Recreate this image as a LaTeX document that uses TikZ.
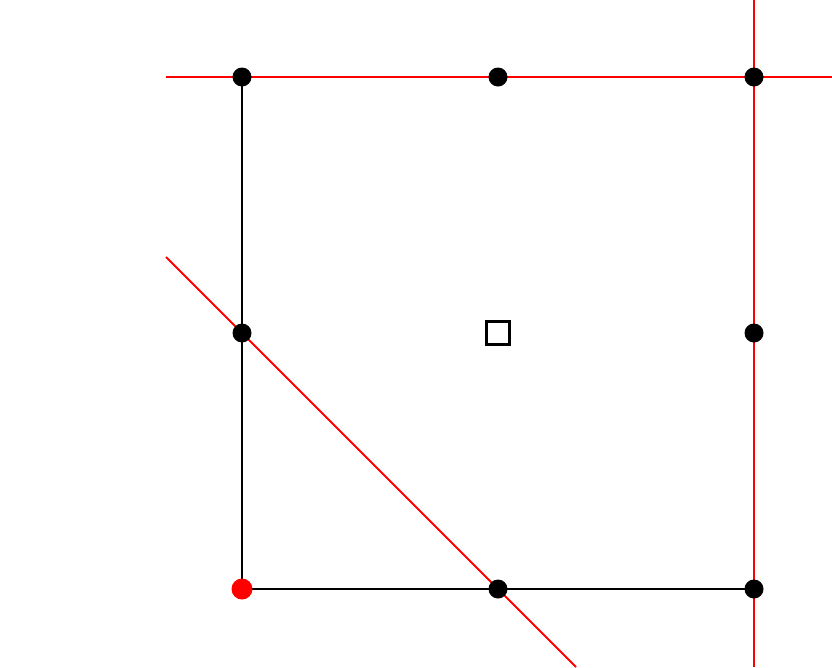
\documentclass[tikz,border=0pt]{standalone}
\begin{document}
\begin{tikzpicture}[x=0.02cm,y=-0.02cm,
  blk/.style={black,line width=1.1pt},
  rdl/.style={red,line width=1.1pt},
  dot/.style={circle,fill=black,inner sep=0pt,minimum size=0.38cm},
  rdot/.style={circle,fill=red,inner sep=0pt,minimum size=0.42cm},
  ctr/.style={draw=black,line width=1.3pt,inner sep=0pt,minimum size=0.46cm}]
\useasboundingbox (0,0) rectangle (832,667);
% coordinates
\coordinate (tl) at (242,77);
\coordinate (tm) at (498,77);
\coordinate (tr) at (754,77);
\coordinate (ml) at (242,333);
\coordinate (mr) at (754,333);
\coordinate (bl) at (242,589);
\coordinate (bm) at (498,589);
\coordinate (br) at (754,589);
\coordinate (hA) at (166,77);
\coordinate (hB) at (832,77);
\coordinate (vA) at (754,0);
\coordinate (vB) at (754,667);
\coordinate (dA) at (166,257);
\coordinate (dB) at (576,667);
% black edges
\draw[blk] (tl) -- (bl) -- (br);
% red lines
\draw[rdl] (hA) -- (hB);
\draw[rdl] (vA) -- (vB);
\draw[rdl] (dA) -- (dB);
% center square
\node[ctr] (c) at (498,333) {};
% dots
\node[dot] (ntl) at (tl) {};
\node[dot] (ntm) at (tm) {};
\node[dot] (ntr) at (tr) {};
\node[dot] (nml) at (ml) {};
\node[dot] (nmr) at (mr) {};
\node[dot] (nbm) at (bm) {};
\node[dot] (nbr) at (br) {};
\node[rdot] (nbl) at (bl) {};
\end{tikzpicture}
\end{document}
